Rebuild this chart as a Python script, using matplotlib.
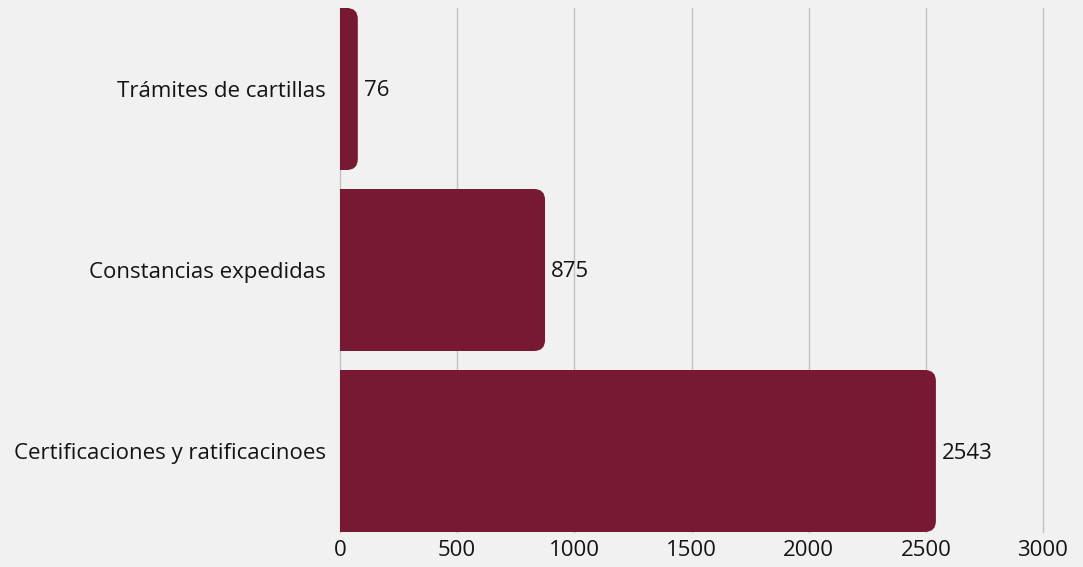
import matplotlib
matplotlib.use("Agg")
import matplotlib.pyplot as plt
from matplotlib.patches import FancyBboxPatch, Rectangle

categories = ["Certificaciones y ratificacinoes", "Constancias expedidas", "Trámites de cartillas"]
values = [2543, 875, 76]
x_ticks = [0, 500, 1000, 1500, 2000, 2500, 3000]

bar_color = "#771933"
bg_color = "#f1f1f2"
text_color = "#141414"
bar_h = 0.895

plt.rcParams["font.family"] = ["Open Sans", "DejaVu Sans"]

fig = plt.figure(figsize=(10.83, 5.67), dpi=100, facecolor=bg_color)
ax = fig.add_axes([340 / 1083, 1 - 532 / 567, 703 / 1083, 524 / 567])
ax.set_facecolor(bg_color)
ax.set_xlim(0, 3000)
ax.set_ylim(-bar_h / 2, len(values) - 1 + bar_h / 2)

for s in ax.spines.values():
    s.set_visible(False)
ax.set_xticks(x_ticks)
ax.set_xticklabels([str(t) for t in x_ticks])
ax.set_yticks(range(len(categories)))
ax.set_yticklabels(categories)
ax.tick_params(axis="both", length=0, labelsize=16, colors=text_color)
ax.tick_params(axis="y", pad=10)
ax.tick_params(axis="x", pad=6)
ax.grid(axis="x", color="#c2c2c2", linewidth=1)
for gl in ax.get_xgridlines():
    gl.set_clip_on(False)
ax.set_axisbelow(True)

# pixel-to-data scales, used to keep the corner rounding circular
bbox = ax.get_window_extent()
x_per_px = 3000 / bbox.width
y_per_px = (len(values) - 1 + bar_h) / bbox.height
radius_px = 11

for i, v in enumerate(values):
    y0 = i - bar_h / 2
    r = radius_px * x_per_px
    ax.add_patch(FancyBboxPatch((0, y0), v, bar_h,
                                boxstyle=f"round,pad=0,rounding_size={r}",
                                mutation_aspect=y_per_px / x_per_px,
                                facecolor=bar_color, edgecolor="none", zorder=2))
    # square off the left end of the bar
    ax.add_patch(Rectangle((0, y0), v / 2, bar_h, facecolor=bar_color,
                           edgecolor="none", zorder=2))
    ax.text(v + 6 * x_per_px, i - 2 * y_per_px, str(v), va="center", ha="left",
            fontsize=16, color=text_color, zorder=3)

fig.savefig("out.png", dpi=100, facecolor=bg_color)
